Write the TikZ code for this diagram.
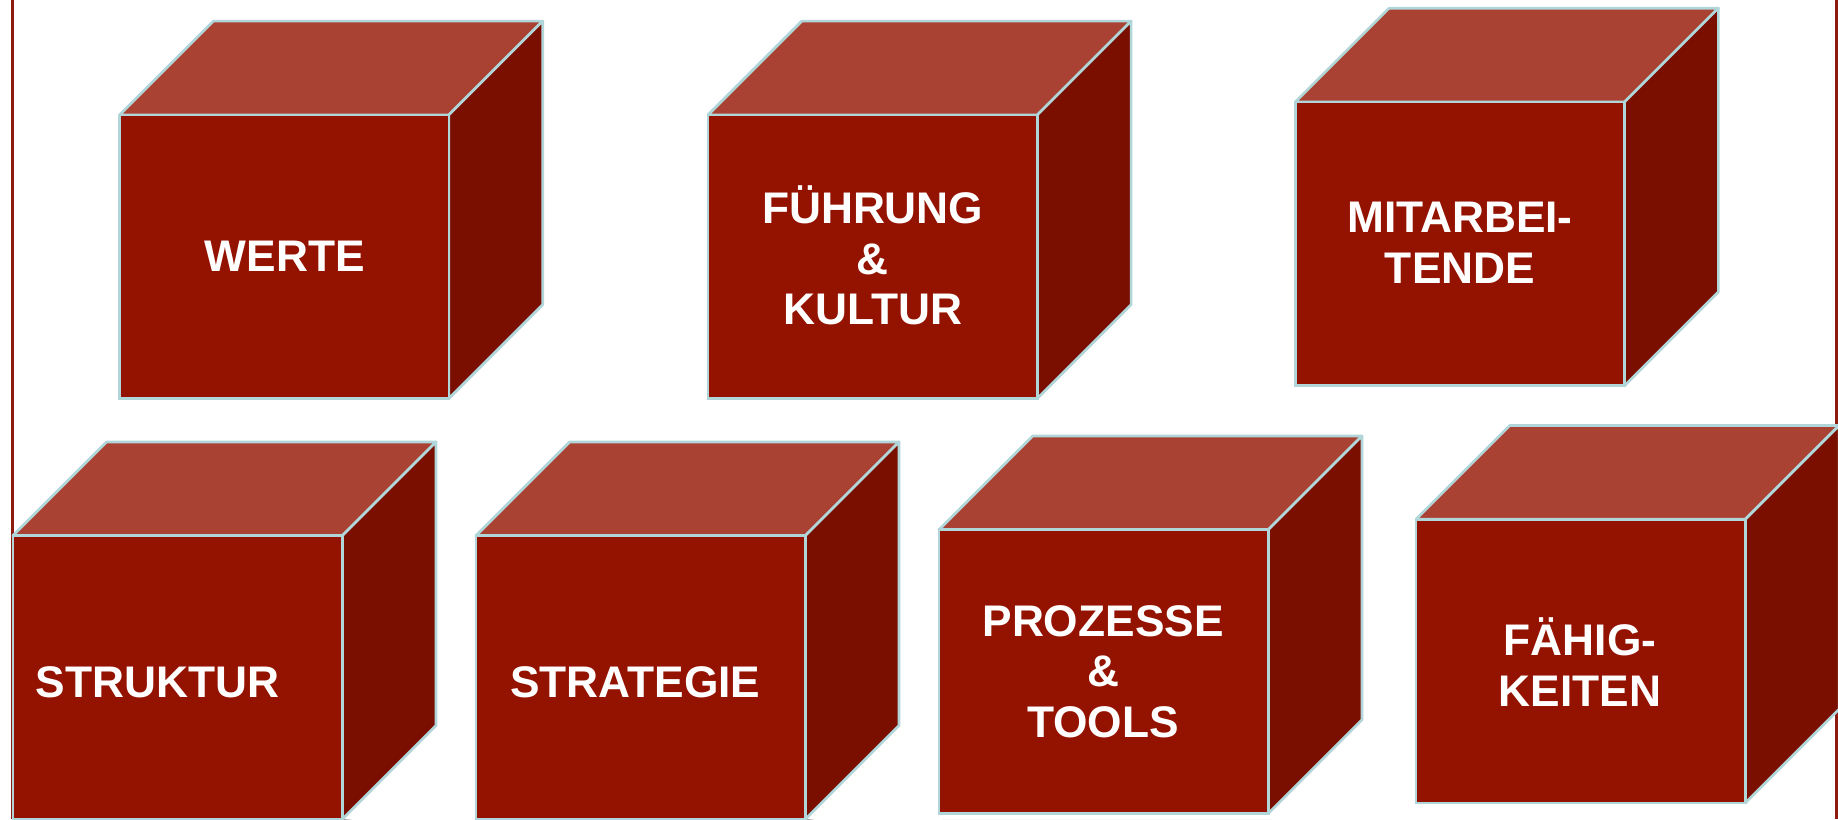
\documentclass[tikz,border=0pt]{standalone}
\usepackage{fontspec}
\setmainfont{Liberation Sans}
\definecolor{frontc}{HTML}{941200}
\definecolor{topc}{HTML}{AA4234}
\definecolor{sidec}{HTML}{7A0F00}
\definecolor{edgec}{HTML}{B0D6DA}
\definecolor{borderc}{HTML}{8E1B10}
\pgfdeclarelayer{bg}
\pgfsetlayers{bg,main}
\tikzset{
  frontface/.style={fill=frontc, draw=edgec, line width=1.3pt, minimum width=5.62cm, minimum height=4.84cm, inner sep=0pt, outer sep=0pt, anchor=north west},
  facestroke/.style={draw=edgec, line width=1.3pt, line join=round},
  label/.style={text=white, font=\bfseries\fontsize{21.5}{24.6}\selectfont, align=center, inner sep=0pt},
  bordline/.style={draw=borderc, line width=1.5pt}
}
\newcommand{\drawcube}[3]{%
  \node[frontface] (#1) at (#2,#3) {};
  \begin{pgfonlayer}{bg}
    \foreach \s/\o in {5/0.08,4/0.1,3/0.12,2/0.15}{
      \fill[black, opacity=\o] ([shift={(\s*0.6,\s)}]#1.north west) -- ([shift={(80+\s*0.6,-80+\s)}]#1.north west) -- ([shift={(80+\s*0.6,-80+\s)}]#1.north east) -- ([shift={(80+\s*0.6,-80+\s)}]#1.south east) -- ([shift={(\s*0.6,\s)}]#1.south east) -- ([shift={(\s*0.6,\s)}]#1.south west) -- cycle;
    }
  \end{pgfonlayer}
  \draw[facestroke, fill=topc] (#1.north west) -- ++(80,-80) -- ([shift={(80,-80)}]#1.north east) -- (#1.north east) -- cycle;
  \draw[facestroke, fill=sidec] (#1.north east) -- ([shift={(80,-80)}]#1.north east) -- ([shift={(80,-80)}]#1.south east) -- (#1.south east) -- cycle;
  \node[frontface] at (#2,#3) {};
}
\begin{document}
\begin{tikzpicture}[x=0.02cm, y=-0.02cm]
\useasboundingbox (0,0) rectangle (1568,699);
\fill[white] (0,0) rectangle (1568,699);
\coordinate (lt) at (10.5,0);
\coordinate (lb) at (10.5,699);
\coordinate (rt) at (1566.8,0);
\coordinate (rb) at (1566.8,699);
\draw[bordline] (lt) -- (lb);
\draw[bordline] (rt) -- (rb);
\drawcube{c1}{102}{98}
\drawcube{c2}{604}{98}
\drawcube{c3}{1105}{87}
\drawcube{c4}{11}{457}
\drawcube{c5}{406}{457}
\drawcube{c6}{801}{452}
\drawcube{c7}{1208}{443}
\node[label] (t1) at (243,219) {WERTE};
\node[label] (t2) at (744.5,218) {FÜHRUNG\\\&\\KULTUR};
\node[label] (t3) at (1245.5,207) {MITARBEI-\\TENDE};
\node[label, anchor=west] (t4) at (30,582) {STRUKTUR};
\node[label, anchor=west] (t5) at (435,582) {STRATEGIE};
\node[label] (t6) at (941,573) {PROZESSE\\\&\\TOOLS};
\node[label] (t7) at (1348,565) {FÄHIG-\\KEITEN};
\end{tikzpicture}
\end{document}
